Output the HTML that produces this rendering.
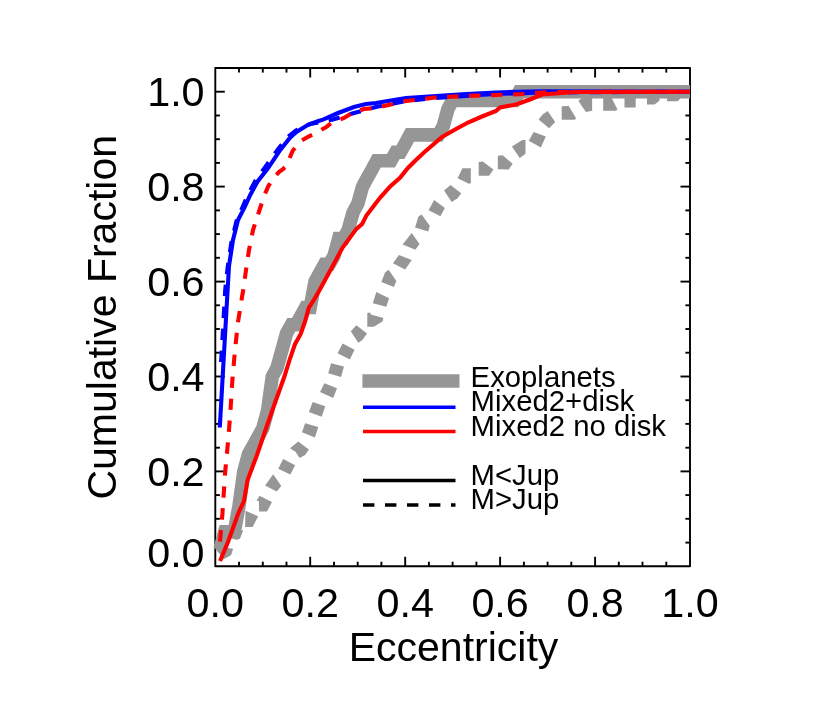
<!DOCTYPE html>
<html><head><meta charset="utf-8"><title>Eccentricity CDF</title>
<style>html,body{margin:0;padding:0;background:#fff;}body{width:830px;height:703px;position:relative;overflow:hidden;font-family:"Liberation Sans",sans-serif;}</style>
</head><body>
<svg width="830" height="703" viewBox="0 0 830 703" style="position:absolute;left:0;top:0;will-change:transform">
<rect width="830" height="703" fill="#fff"/>
<defs><clipPath id="c"><rect x="213.3" y="68" width="477.0" height="498.29999999999995"/></clipPath></defs>
<g stroke="#000" stroke-width="1.9" fill="none">
<rect x="215.3" y="68" width="474.7" height="498.29999999999995" stroke-linejoin="round"/>
<line x1="239.0" y1="566.3" x2="239.0" y2="561.6999999999999"/>
<line x1="239.0" y1="68" x2="239.0" y2="72.6"/>
<line x1="262.8" y1="566.3" x2="262.8" y2="561.6999999999999"/>
<line x1="262.8" y1="68" x2="262.8" y2="72.6"/>
<line x1="286.5" y1="566.3" x2="286.5" y2="561.6999999999999"/>
<line x1="286.5" y1="68" x2="286.5" y2="72.6"/>
<line x1="310.2" y1="566.3" x2="310.2" y2="556.8"/>
<line x1="310.2" y1="68" x2="310.2" y2="77.5"/>
<line x1="334.0" y1="566.3" x2="334.0" y2="561.6999999999999"/>
<line x1="334.0" y1="68" x2="334.0" y2="72.6"/>
<line x1="357.7" y1="566.3" x2="357.7" y2="561.6999999999999"/>
<line x1="357.7" y1="68" x2="357.7" y2="72.6"/>
<line x1="381.4" y1="566.3" x2="381.4" y2="561.6999999999999"/>
<line x1="381.4" y1="68" x2="381.4" y2="72.6"/>
<line x1="405.2" y1="566.3" x2="405.2" y2="556.8"/>
<line x1="405.2" y1="68" x2="405.2" y2="77.5"/>
<line x1="428.9" y1="566.3" x2="428.9" y2="561.6999999999999"/>
<line x1="428.9" y1="68" x2="428.9" y2="72.6"/>
<line x1="452.6" y1="566.3" x2="452.6" y2="561.6999999999999"/>
<line x1="452.6" y1="68" x2="452.6" y2="72.6"/>
<line x1="476.4" y1="566.3" x2="476.4" y2="561.6999999999999"/>
<line x1="476.4" y1="68" x2="476.4" y2="72.6"/>
<line x1="500.1" y1="566.3" x2="500.1" y2="556.8"/>
<line x1="500.1" y1="68" x2="500.1" y2="77.5"/>
<line x1="523.9" y1="566.3" x2="523.9" y2="561.6999999999999"/>
<line x1="523.9" y1="68" x2="523.9" y2="72.6"/>
<line x1="547.6" y1="566.3" x2="547.6" y2="561.6999999999999"/>
<line x1="547.6" y1="68" x2="547.6" y2="72.6"/>
<line x1="571.3" y1="566.3" x2="571.3" y2="561.6999999999999"/>
<line x1="571.3" y1="68" x2="571.3" y2="72.6"/>
<line x1="595.1" y1="566.3" x2="595.1" y2="556.8"/>
<line x1="595.1" y1="68" x2="595.1" y2="77.5"/>
<line x1="618.8" y1="566.3" x2="618.8" y2="561.6999999999999"/>
<line x1="618.8" y1="68" x2="618.8" y2="72.6"/>
<line x1="642.5" y1="566.3" x2="642.5" y2="561.6999999999999"/>
<line x1="642.5" y1="68" x2="642.5" y2="72.6"/>
<line x1="666.3" y1="566.3" x2="666.3" y2="561.6999999999999"/>
<line x1="666.3" y1="68" x2="666.3" y2="72.6"/>
<line x1="215.3" y1="542.6" x2="219.9" y2="542.6"/>
<line x1="690" y1="542.6" x2="685.4" y2="542.6"/>
<line x1="215.3" y1="518.8" x2="219.9" y2="518.8"/>
<line x1="690" y1="518.8" x2="685.4" y2="518.8"/>
<line x1="215.3" y1="495.1" x2="219.9" y2="495.1"/>
<line x1="690" y1="495.1" x2="685.4" y2="495.1"/>
<line x1="215.3" y1="471.4" x2="224.8" y2="471.4"/>
<line x1="690" y1="471.4" x2="680.5" y2="471.4"/>
<line x1="215.3" y1="447.7" x2="219.9" y2="447.7"/>
<line x1="690" y1="447.7" x2="685.4" y2="447.7"/>
<line x1="215.3" y1="423.9" x2="219.9" y2="423.9"/>
<line x1="690" y1="423.9" x2="685.4" y2="423.9"/>
<line x1="215.3" y1="400.2" x2="219.9" y2="400.2"/>
<line x1="690" y1="400.2" x2="685.4" y2="400.2"/>
<line x1="215.3" y1="376.5" x2="224.8" y2="376.5"/>
<line x1="690" y1="376.5" x2="680.5" y2="376.5"/>
<line x1="215.3" y1="352.7" x2="219.9" y2="352.7"/>
<line x1="690" y1="352.7" x2="685.4" y2="352.7"/>
<line x1="215.3" y1="329.0" x2="219.9" y2="329.0"/>
<line x1="690" y1="329.0" x2="685.4" y2="329.0"/>
<line x1="215.3" y1="305.3" x2="219.9" y2="305.3"/>
<line x1="690" y1="305.3" x2="685.4" y2="305.3"/>
<line x1="215.3" y1="281.6" x2="224.8" y2="281.6"/>
<line x1="690" y1="281.6" x2="680.5" y2="281.6"/>
<line x1="215.3" y1="257.8" x2="219.9" y2="257.8"/>
<line x1="690" y1="257.8" x2="685.4" y2="257.8"/>
<line x1="215.3" y1="234.1" x2="219.9" y2="234.1"/>
<line x1="690" y1="234.1" x2="685.4" y2="234.1"/>
<line x1="215.3" y1="210.4" x2="219.9" y2="210.4"/>
<line x1="690" y1="210.4" x2="685.4" y2="210.4"/>
<line x1="215.3" y1="186.6" x2="224.8" y2="186.6"/>
<line x1="690" y1="186.6" x2="680.5" y2="186.6"/>
<line x1="215.3" y1="162.9" x2="219.9" y2="162.9"/>
<line x1="690" y1="162.9" x2="685.4" y2="162.9"/>
<line x1="215.3" y1="139.2" x2="219.9" y2="139.2"/>
<line x1="690" y1="139.2" x2="685.4" y2="139.2"/>
<line x1="215.3" y1="115.5" x2="219.9" y2="115.5"/>
<line x1="690" y1="115.5" x2="685.4" y2="115.5"/>
<line x1="215.3" y1="91.7" x2="224.8" y2="91.7"/>
<line x1="690" y1="91.7" x2="680.5" y2="91.7"/>
</g>
<g clip-path="url(#c)" fill="none" stroke-linejoin="miter">
<polyline points="220.0,549.1 224.8,531.9 234.3,531.9 239.0,506.0 243.8,471.5 248.5,454.2 253.3,445.6 258.0,437.0 262.8,428.3 267.5,411.1 272.3,376.6 277.0,367.9 281.8,350.7 286.5,333.4 291.3,324.8 296.0,324.8 300.7,316.2 305.5,307.5 310.2,307.5 315.0,281.6 319.7,273.0 324.5,264.4 329.2,264.4 334.0,255.8 338.7,238.5 343.5,238.5 348.2,229.9 353.0,212.6 357.7,204.0 362.5,186.7 367.2,178.1 372.0,169.5 376.7,160.8 390.9,160.8 395.7,152.2 400.4,152.2 405.2,143.6 409.9,134.9 438.4,134.9 443.2,126.3 447.9,109.1 452.6,100.4 514.4,100.4 519.1,91.8 690.0,91.8" stroke="#969696" stroke-width="13.6" stroke-linejoin="miter" stroke-miterlimit="4"/>
<polygon points="213.4,546.5 220.5,555.1 224,556.5 226.6,549.9" fill="#969696" stroke="none"/>
<polygon points="224.0,547.6 233.2,548.7 231.0,555.2 223.1,559.6 220.0,557.0" fill="#969696" stroke="none"/>
<polygon points="236.0,530.0 243.2,530.6 240.1,538.3 236.9,539.9 232.0,538.0" fill="#969696" stroke="none"/>
<polygon points="245.5,510.7 258.2,516.3 252.6,527.0 245.1,527.0" fill="#969696" stroke="none"/>
<polygon points="259.5,495.7 272.0,501.9 267.0,511.6 259.1,511.6 258.9,501.3 256.6,500.7" fill="#969696" stroke="none"/>
<polygon points="273.2,474.2 281.3,486.0 276.7,491.5 265.1,485.4" fill="#969696" stroke="none"/>
<polygon points="283.2,458.9 295.1,465.2 290.4,474.6 278.2,468.7" fill="#969696" stroke="none"/>
<polygon points="298.2,441.4 308.9,449.5 305.1,455.1 299.5,457.9 295.7,452.0 290.1,448.2" fill="#969696" stroke="none"/>
<polygon points="305.1,423.2 318.3,426.9 314.9,437.6 302.0,432.3" fill="#969696" stroke="none"/>
<polygon points="312.7,401.9 325.2,406.3 321.7,416.7 308.9,411.9" fill="#969696" stroke="none"/>
<polygon points="324.4,383.3 337.0,388.3 333.2,398.0 320.1,392.1" fill="#969696" stroke="none"/>
<polygon points="331.1,363.3 343.9,366.4 341.1,377.0 328.2,373.3" fill="#969696" stroke="none"/>
<polygon points="342.6,343.6 354.5,349.8 349.9,359.5 337.6,353.2" fill="#969696" stroke="none"/>
<polygon points="356.4,325.3 367.0,333.6 362.4,340.1 358.3,342.8 350.8,331.3" fill="#969696" stroke="none"/>
<polygon points="367.3,313.1 370.2,312.5 370.8,314.4 383.3,318.1 382.7,321.3 373.9,326.7 367.3,326.7" fill="#969696" stroke="none"/>
<polygon points="376.3,292.0 389.1,298.3 386.3,306.7 372.8,303.3" fill="#969696" stroke="none"/>
<polygon points="388.6,269.8 396.4,281.1 393.9,287.0 381.3,282.0 385.1,272.4" fill="#969696" stroke="none"/>
<polygon points="398.9,255.1 411.8,260.1 405.1,269.5 393.0,263.2" fill="#969696" stroke="none"/>
<polygon points="411.7,233.1 419.5,244.0 415.4,249.8 402.6,244.4" fill="#969696" stroke="none"/>
<polygon points="421.6,214.5 429.8,225.8 428.2,231.5 415.0,227.4 418.5,216.4" fill="#969696" stroke="none"/>
<polygon points="434.1,199.9 444.9,207.9 440.4,216.2 428.6,210.2" fill="#969696" stroke="none"/>
<polygon points="450.5,185.1 461.2,193.2 457.6,198.2 451.6,202.0 444.1,190.4" fill="#969696" stroke="none"/>
<polygon points="462.4,168.2 470.8,168.2 470.8,182.6 469.5,184.1 457.6,178.2" fill="#969696" stroke="none"/>
<polygon points="478.7,161.9 482.7,161.5 493.4,169.4 489.2,175.7 478.7,175.7" fill="#969696" stroke="none"/>
<polygon points="497.8,155.8 502.5,155.2 512.6,163.7 508.8,169.6 497.8,169.2" fill="#969696" stroke="none"/>
<polygon points="522.3,139.9 525.5,140.1 525.5,153.7 519.7,157.9 511.9,146.4" fill="#969696" stroke="none"/>
<polygon points="533.6,132.0 545.8,136.6 540.8,147.4 528.8,140.8" fill="#969696" stroke="none"/>
<polygon points="547.6,111.1 555.2,122.0 549.1,128.2 538.6,119.5 542.6,114.4" fill="#969696" stroke="none"/>
<polygon points="561.7,106.3 568.7,106.1 576.2,118.6 574.6,119.8 561.7,119.8" fill="#969696" stroke="none"/>
<polygon points="578.3,100.7 582.7,97.5 592.1,97.5 592.1,110.7 585.9,111.9" fill="#969696" stroke="none"/>
<polygon points="603.2,96.0 610.7,96.0 617.6,109.8 615.7,110.7 603.2,110.7" fill="#969696" stroke="none"/>
<polygon points="624.5,96.0 635.7,96.0 635.7,107.6 624.5,107.6" fill="#969696" stroke="none"/>
<polygon points="647.0,96.0 659.5,96.0 659.5,100.7 654.5,104.5 647.0,104.5" fill="#969696" stroke="none"/>
<polygon points="667.1,96.0 682.7,96.0 677.7,101.3 667.1,101.3" fill="#969696" stroke="none"/>
<polyline points="221.1,362.0 225.2,290.0 227.8,266.0 231.8,240.0 236.8,220.0 242.6,207.0 248.3,194.0 255.5,180.5 265.3,167.0 273.0,156.0 278.5,148.5 289.0,136.0 296.0,130.5 310.0,124.0 333.0,119.5 354.0,113.0 376.0,107.0 406.0,101.0 436.0,98.0 466.0,96.0 496.0,94.0 542.0,92.5 690.0,91.7" stroke="#0000ff" stroke-width="4.1" stroke-dasharray="11.4 10.6"/>
<polyline points="219.8,427.5 227.6,290.0 229.0,266.0 233.0,240.0 238.0,220.0 244.4,207.7 250.1,195.2 257.6,181.4 267.6,168.9 275.1,157.6 280.1,150.1 290.2,137.5 296.4,131.9 307.7,125.0 317.7,121.3 323.0,119.6 338.0,113.0 354.0,107.0 366.0,104.0 376.0,103.0 406.0,98.0 436.0,96.0 466.0,94.0 496.0,92.5 516.0,91.7 542.0,91.2 690.0,91.7" stroke="#0000ff" stroke-width="4.1"/>
<polyline points="220.0,541.5 221.0,530.0 222.4,514.0 225.0,474.0 228.0,442.0 229.0,430.0 230.5,410.0 232.4,380.0 235.0,350.0 238.0,322.0 242.5,294.0 243.3,290.0 246.0,270.0 249.0,250.0 253.0,230.0 259.5,210.0 264.5,195.0 268.2,186.4 273.0,178.5 278.9,172.0 282.6,169.5 286.4,165.7 292.7,150.7 300.2,141.3 309.0,136.3 314.6,133.8 326.5,126.9 332.0,122.5 344.0,118.0 352.0,113.0 364.0,109.0 376.0,108.0 384.0,106.0 406.0,101.0 436.0,97.4 466.0,96.0 496.0,95.0 526.0,94.0 542.0,92.5 560.0,92.0 690.0,91.7" stroke="#ff0000" stroke-width="4.1" stroke-dasharray="11.4 10.6"/>
<polyline points="220.0,561.0 228.0,542.0 238.0,514.0 244.0,501.0 247.6,480.0 257.0,455.0 265.5,430.0 276.0,400.0 284.4,376.5 289.5,360.2 295.1,343.9 300.7,333.9 305.1,321.3 308.9,307.5 313.9,300.0 319.6,290.0 333.8,263.9 342.6,247.6 356.4,228.8 362.0,224.2 366.4,215.6 380.2,197.6 390.2,186.4 400.2,177.6 407.7,168.2 415.2,160.7 424.0,152.5 428.0,149.0 442.0,137.0 456.0,129.0 468.0,122.5 482.0,116.5 496.0,111.0 500.0,107.5 516.0,104.5 530.0,99.5 542.0,94.5 562.0,93.0 575.0,92.0 690.0,91.7" stroke="#ff0000" stroke-width="4.1"/>
</g>
<line x1="362.4" y1="381" x2="459.5" y2="381" stroke="#969696" stroke-width="13.6"/>
<line x1="363" y1="407.3" x2="455.5" y2="407.3" stroke="#0000ff" stroke-width="3.5"/>
<line x1="363" y1="431.6" x2="455.5" y2="431.6" stroke="#ff0000" stroke-width="3.5"/>
<line x1="363" y1="480.5" x2="455.5" y2="480.5" stroke="#000" stroke-width="3.5"/>
<line x1="363" y1="505" x2="455.5" y2="505" stroke="#000" stroke-width="3.6" stroke-dasharray="11.4 10.6"/>
<g font-family="Liberation Sans, sans-serif" fill="#000">
<text x="215.3" y="617.3" font-size="41.3" text-anchor="middle">0.0</text>
<text x="204.6" y="566.8" font-size="41.3" text-anchor="end">0.0</text>
<text x="310.2" y="617.3" font-size="41.3" text-anchor="middle">0.2</text>
<text x="204.6" y="485.7" font-size="41.3" text-anchor="end">0.2</text>
<text x="405.2" y="617.3" font-size="41.3" text-anchor="middle">0.4</text>
<text x="204.6" y="390.8" font-size="41.3" text-anchor="end">0.4</text>
<text x="500.1" y="617.3" font-size="41.3" text-anchor="middle">0.6</text>
<text x="204.6" y="295.9" font-size="41.3" text-anchor="end">0.6</text>
<text x="595.1" y="617.3" font-size="41.3" text-anchor="middle">0.8</text>
<text x="204.6" y="200.9" font-size="41.3" text-anchor="end">0.8</text>
<text x="690.0" y="617.3" font-size="41.3" text-anchor="middle">1.0</text>
<text x="204.6" y="106.0" font-size="41.3" text-anchor="end">1.0</text>
<text x="453.5" y="660.7" font-size="41" text-anchor="middle">Eccentricity</text>
<text transform="translate(115.6,317.3) rotate(-90)" font-size="41" text-anchor="middle">Cumulative Fraction</text>
<text x="470.6" y="386.8" font-size="29.3">Exoplanets</text>
<text x="470.6" y="411.3" font-size="29.3">Mixed2+disk</text>
<text x="470.6" y="435.9" font-size="29.3">Mixed2 no disk</text>
<text x="470.6" y="484.9" font-size="29.3">M&lt;Jup</text>
<text x="470.6" y="509.4" font-size="29.3">M&gt;Jup</text>
</g>
</svg>
</body></html>
